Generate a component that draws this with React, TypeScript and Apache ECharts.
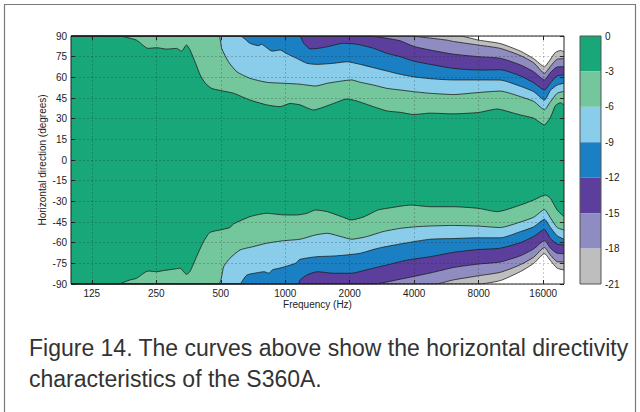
import React, { useEffect, useRef } from "react";
import * as echarts from "echarts";

const FONT = '"Liberation Sans", Arial, Helvetica, sans-serif';

// Axis ticks
const freqTicks = [125, 250, 500, 1000, 2000, 4000, 8000, 16000];
const freqMin = 100;
const freqMax = 20000;
const angleMin = -90;
const angleMax = 90;
const angleStep = 15;

// Colour bar levels (dB) and band colours (0..-3, -3..-6, ... -18..-21)
const levelMin = -21;
const levelMax = 0;
const levelStep = 3;
const bandNames = ["0 … -3", "-3 … -6", "-6 … -9", "-9 … -12", "-12 … -15", "-15 … -18", "-18 … -21"];
const bandColors = ["#18a779", "#74c69c", "#8acdea", "#1b7fc3", "#5c3f9d", "#8e8cc1", "#bebebe"];

// Contours, upper half: [frequency Hz, angle deg]
const upper3: [number, number][] = [[100, 90], [166, 90], [202, 87], [229, 81], [251, 81.5], [279, 80.5], [311, 81], [328, 79], [346, 83.5], [359, 80], [382, 70], [400, 62], [422, 56], [453, 52], [496, 50.5], [572, 48.5], [685, 43.5], [819, 40], [946, 38.7], [1053, 41], [1173, 40], [1353, 36.3], [1454, 37.5], [1678, 41], [1939, 44.3], [2159, 42.8], [2581, 38.7], [2981, 35.6], [3440, 34.6], [3970, 33], [4752, 34], [6106, 33.5], [7990, 34.5], [9740, 37], [11650, 34], [12520, 32.7], [14450, 30.3], [16200, 25.5], [17290, 31], [18240, 39.5], [19250, 41.5], [20000, 40]];
const upper6: [number, number][] = [[100, 90], [487, 90], [505, 81], [543, 71.3], [595, 64], [685, 59.3], [819, 56.4], [980, 55.7], [1173, 55], [1385, 53.7], [1572, 55.7], [1829, 57.3], [2040, 58.1], [2240, 56.4], [2581, 54.4], [2981, 52], [3440, 50.8], [3970, 49.6], [4752, 48.4], [6106, 47.5], [7990, 49], [10090, 50], [12520, 46], [14450, 42.5], [16210, 36.5], [17290, 42.3], [18580, 48.4], [20000, 49.8]];
const upper9: [number, number][] = [[100, 90], [615, 90], [685, 84.7], [750, 83], [775, 84], [819, 81.5], [868, 79], [946, 79.8], [1010, 77.4], [1130, 73.8], [1261, 70.2], [1412, 69.4], [1678, 70.2], [1939, 71.3], [2240, 69.4], [2581, 67], [2981, 64.6], [3440, 62.2], [3970, 60.4], [4752, 59], [6106, 58.1], [7990, 58.1], [10090, 58], [12520, 53.5], [14450, 49.6], [16210, 43.5], [17290, 50.5], [18580, 54.4], [20000, 55.7]];
const upper12: [number, number][] = [[100, 90], [1164, 90], [1220, 84.7], [1310, 80.6], [1420, 81], [1570, 82.2], [1868, 84.7], [2159, 84], [2581, 81.1], [2981, 77.4], [3440, 75], [3970, 71.8], [4752, 69.4], [6106, 66.5], [7990, 65.3], [10090, 65.5], [12520, 61], [14450, 56], [16210, 50.8], [17290, 56], [18580, 61], [20000, 61.7]];
const upper15: [number, number][] = [[100, 90], [2440, 90], [2981, 88.3], [3440, 86.5], [3970, 82.5], [4752, 79.8], [6106, 76.8], [7990, 75], [10090, 73.8], [12520, 69], [14450, 64], [16210, 58.1], [17290, 63.5], [18580, 67.5], [20000, 67.7]];
const upper18: [number, number][] = [[100, 90], [3900, 90], [4266, 89.3], [5688, 87], [6106, 86], [8140, 83.2], [10090, 81], [12520, 75.8], [14450, 70.5], [16210, 62.9], [17290, 68], [18580, 73.2], [20000, 73.5]];
const upper21: [number, number][] = [[100, 90], [6500, 90], [7990, 87], [10090, 84.5], [12520, 79], [14450, 73.5], [16210, 67.7], [17100, 72], [18200, 78], [19300, 79.5], [20000, 78.6]];

// Contours, lower half: [frequency Hz, angle deg]
const lower3: [number, number][] = [[100, -90], [166, -90], [188, -87.1], [202, -85.9], [229, -80.6], [251, -81.1], [269, -80.3], [299, -79.3], [323, -78.6], [346, -83], [359, -81], [386, -70], [412, -60.4], [444, -52.7], [496, -50.8], [552, -49], [572, -46.5], [685, -41.1], [819, -38.7], [1000, -39.9], [1130, -39.9], [1261, -38.7], [1385, -36.3], [1572, -37.5], [1829, -41.1], [2040, -43.5], [2338, -41.1], [2705, -36.3], [2981, -35.1], [3855, -32.7], [4752, -33.9], [6106, -33.9], [7990, -35.1], [9740, -37.5], [12520, -32.7], [14450, -29], [16380, -25.4], [17290, -27.8], [18580, -36.3], [20000, -41.1]];
const lower6: [number, number][] = [[100, -90], [487, -90], [516, -77.4], [552, -71.3], [615, -65.3], [708, -62.9], [819, -60.4], [980, -58.6], [1173, -57.5], [1385, -54.4], [1572, -53.2], [1829, -55.7], [2040, -57.5], [2386, -55.7], [2857, -52], [3440, -49.6], [4120, -48.4], [4752, -47.9], [6106, -47.5], [7990, -48], [10090, -49], [12520, -45], [14450, -41.5], [16210, -36], [17290, -42], [18580, -49], [20000, -50.8]];
const lower9: [number, number][] = [[100, -90], [615, -90], [627, -88.3], [662, -83.5], [741, -81.8], [797, -81.1], [840, -82.2], [869, -79.8], [933, -78.6], [1000, -77.4], [1114, -75], [1173, -72.1], [1402, -70.2], [1678, -69.7], [1939, -68.9], [2240, -67.7], [2705, -64.1], [3236, -61.7], [3970, -59.3], [4752, -57.5], [6106, -57], [7990, -56.5], [10090, -56.5], [12520, -52], [14450, -48.5], [16210, -43], [17290, -49], [18580, -55], [20000, -57.5]];
const lower12: [number, number][] = [[100, -90], [1150, -90], [1173, -87.1], [1261, -83.5], [1412, -81.1], [1678, -82.2], [2040, -82.2], [2386, -79.8], [2981, -76.2], [3720, -72.6], [4752, -70.2], [6106, -67], [7990, -65], [10090, -64], [12520, -60], [14450, -55.5], [16210, -50.5], [17290, -57], [18580, -61], [20000, -61.7]];
const lower15: [number, number][] = [[100, -90], [2580, -90], [3440, -86.5], [4752, -82], [6106, -78], [7990, -75.5], [10090, -74], [12520, -69.5], [14450, -64.5], [16210, -58.5], [17290, -64], [18580, -67.7], [20000, -68]];
const lower18: [number, number][] = [[100, -90], [5000, -90], [6106, -87], [7990, -84], [10090, -81.5], [12520, -76], [14450, -70.5], [16210, -63.5], [17290, -69], [18580, -73.8], [20000, -74]];
const lower21: [number, number][] = [[100, -90], [7990, -90], [10090, -87.5], [12520, -81], [14450, -75], [16210, -68], [17290, -73], [18580, -78.5], [20000, -79.8]];

const captionLines = [
  "Figure 14. The curves above show the horizontal directivity",
  "characteristics of the S360A.",
];

const upperContours = [upper3, upper6, upper9, upper12, upper15, upper18, upper21];
const lowerContours = [lower3, lower6, lower9, lower12, lower15, lower18, lower21];

const oct = (f: number) => Math.log2(f / freqTicks[0]);

function buildOption() {
  const xTickVals = freqTicks.map(oct);
  const contourSeries: any[] = [];
  const addHalf = (list: [number, number][][], tag: string) => {
    for (let i = list.length - 1; i >= 0; i--) {
      contourSeries.push({
        type: "line",
        name: tag + bandNames[i],
        xAxisIndex: 0,
        yAxisIndex: 0,
        data: list[i].map(([f, a]) => [oct(f), a]),
        symbol: "none",
        smooth: 0.2,
        silent: true,
        lineStyle: { color: "#1e1e1e", width: 0.8 },
        areaStyle: { color: bandColors[i], opacity: 1, origin: 0 },
        z: 2,
      });
    }
  };
  addHalf(upperContours, "upper ");
  addHalf(lowerContours, "lower ");

  const barSeries = bandColors.map((c, i) => ({
    type: "bar",
    name: bandNames[i],
    xAxisIndex: 2,
    yAxisIndex: 2,
    stack: "cb",
    data: [-levelStep],
    barWidth: "100%",
    silent: true,
    itemStyle: { color: c },
    z: 2,
  }));

  const axisColor = "#222";
  const lbl = { fontSize: 10, color: "#222", fontFamily: FONT };
  const noLine = { show: false, onZero: false };

  return {
    animation: false,
    textStyle: { fontFamily: FONT },
    grid: [
      { left: 71, top: 36, width: 493, height: 248, show: true, borderColor: axisColor, borderWidth: 1, backgroundColor: "transparent", z: 10 },
      { left: 580, top: 36, width: 21, height: 248, show: true, borderColor: "#555", borderWidth: 1, backgroundColor: "transparent", z: 10 },
    ],
    xAxis: [
      {
        type: "value", gridIndex: 0, min: oct(freqMin), max: oct(freqMax), position: "bottom", z: 5,
        axisLine: noLine,
        axisTick: { show: true, inside: true, length: 4, customValues: xTickVals, lineStyle: { color: axisColor } },
        axisLabel: { ...lbl, margin: 4, customValues: xTickVals, formatter: (v: number) => String(freqTicks[Math.round(v)] ?? "") },
        splitLine: { show: true, lineStyle: { color: "rgba(30,30,30,0.3)", width: 0.8, type: [2, 2] } },
        name: "Frequency (Hz)", nameLocation: "middle", nameGap: 15, nameMoveOverlap: false, nameTextStyle: { ...lbl },
      },
      {
        type: "value", gridIndex: 0, min: oct(freqMin), max: oct(freqMax), position: "top", z: 5,
        axisLine: noLine,
        axisTick: { show: true, inside: true, length: 4, customValues: xTickVals, lineStyle: { color: axisColor } },
        axisLabel: { show: false, customValues: xTickVals },
        splitLine: { show: false },
      },
      {
        type: "category", gridIndex: 1, data: ["dB"], show: false,
      },
    ],
    yAxis: [
      {
        type: "value", gridIndex: 0, min: angleMin, max: angleMax, interval: angleStep, position: "left", z: 5,
        axisLine: noLine,
        axisTick: { show: true, inside: true, length: 4, lineStyle: { color: axisColor } },
        axisLabel: { ...lbl, margin: 4 },
        splitLine: { show: true, lineStyle: { color: "rgba(30,30,30,0.3)", width: 0.8, type: [2, 2] } },
        name: "Horizontal direction (degrees)", nameLocation: "middle", nameGap: 24, nameMoveOverlap: false, nameRotate: 90, nameTextStyle: { ...lbl },
      },
      {
        type: "value", gridIndex: 0, min: angleMin, max: angleMax, interval: angleStep, position: "right", z: 5,
        axisLine: noLine,
        axisTick: { show: true, inside: true, length: 4, lineStyle: { color: axisColor } },
        axisLabel: { show: false },
        splitLine: { show: false },
      },
      {
        type: "value", gridIndex: 1, min: levelMin, max: levelMax, interval: levelStep, position: "right", z: 5,
        axisLine: noLine,
        axisTick: { show: false },
        axisLabel: { ...lbl, margin: 4 },
        splitLine: { show: false },
      },
    ],
    graphic: [
      {
        type: "rect", silent: true, z: 0,
        shape: { x: 4.5, y: 4.5, width: 631, height: 440 },
        style: { fill: "none", stroke: "#7a7a7a", lineWidth: 1.2 },
      },
      ...captionLines.map((t, i) => ({
        type: "text", silent: true, z: 20,
        left: 29, top: 336 + i * 31,
        style: { text: t, fill: "#333", font: `23px ${FONT}` },
      })),
    ],
    series: [...contourSeries, ...barSeries],
  };
}

export default function App() {
  const ref = useRef<HTMLDivElement>(null);
  useEffect(() => {
    if (!ref.current) return;
    const chart = echarts.init(ref.current, undefined, { renderer: "svg" });
    chart.setOption(buildOption() as any);
    return () => chart.dispose();
  }, []);
  return (
    <div
      ref={ref}
      style={{ position: "absolute", left: 0, top: 0, width: 640, height: 412, background: "#fff" }}
    />
  );
}
